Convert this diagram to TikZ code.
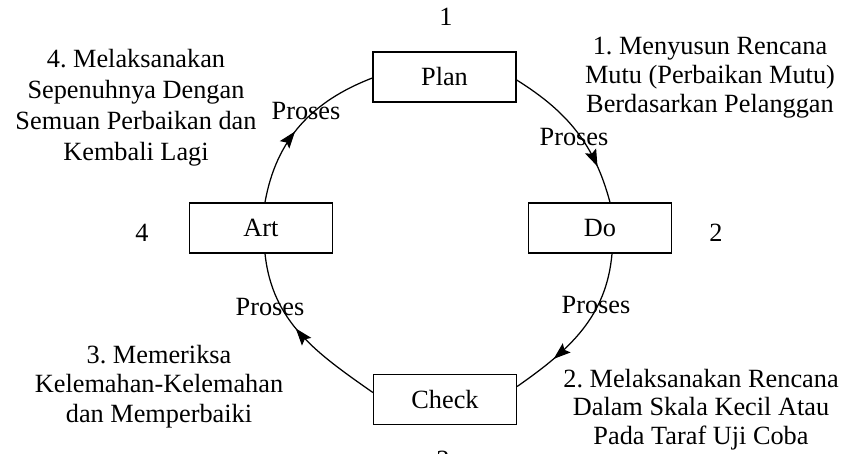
\documentclass[tikz,border=0pt]{standalone}
\usepackage{fontspec}
\setmainfont{Liberation Serif}
\frenchspacing
\usetikzlibrary{arrows.meta,decorations.markings}
\begin{document}
\begin{tikzpicture}[x=1pt,y=1pt,
  box/.style={draw, line width=1.3pt, minimum width=143pt, minimum height=50pt, inner sep=0pt, font=\fontsize{26.3}{29.5}\selectfont},
  lbl/.style={inner sep=0pt, font=\fontsize{26.3}{29.5}\selectfont},
  blk/.style={inner sep=0pt, align=center, anchor=north, font=\fontsize{26.3}{#1}\selectfont},
  cyc/.style={line width=1.25pt},
  arrowat/.style={postaction={decorate}, decoration={markings, mark=at position #1 with {\arrow{Stealth[length=17pt,width=12pt,inset=3pt]}}}}
]
\useasboundingbox (0,0) rectangle (843,-454);
\clip (0,0) rectangle (843,-454);
\fill[white] (0,0) rectangle (843,-454);

\node[box] (plan) at (444.5,-77) {Plan};
\node[box] (do) at (600,-228) {Do};
\node[box] (art) at (261,-228) {Art};
\node[box] (check) at (445,-399.5) {Check};

\draw[cyc, arrowat=0.76] ([yshift=-3pt]plan.east) to[out=-32,in=105] ([xshift=10pt]do.north);
\draw[cyc, arrowat=0.73] ([xshift=12pt]do.south) to[out=-95,in=35] ([yshift=13pt]check.east);
\draw[cyc, arrowat=0.55] ([yshift=7pt]check.west) to[out=145,in=-84] ([xshift=4pt]art.south);
\draw[cyc, arrowat=0.45] ([xshift=4pt]art.north) to[out=80,in=-159] ([yshift=-1pt]plan.west);

\node[lbl, anchor=base] (n1) at (446,-26) {1};
\node[lbl, anchor=base] (n2) at (716,-242) {2};
\node[lbl, anchor=base] (n3) at (443,-468) {3};
\node[lbl, anchor=base] (n4) at (142,-242) {4};

\node[lbl, anchor=base] (p1) at (574,-146) {Proses};
\node[lbl, anchor=base] (p2) at (596,-313) {Proses};
\node[lbl, anchor=base] (p3) at (270,-315) {Proses};
\node[lbl, anchor=base] (p4) at (306,-120) {Proses};

\node[blk=29] (t1) at (710,-37) {1. Menyusun Rencana\\Mutu (Perbaikan Mutu)\\Berdasarkan Pelanggan};
\node[blk=31] (t4) at (136,-49) {4. Melaksanakan\\Sepenuhnya Dengan\\Semuan Perbaikan dan\\Kembali Lagi};
\node[blk=29.5] (t3) at (159,-345) {3. Memeriksa\\Kelemahan-Kelemahan\\dan Memperbaiki};
\node[blk=28.5] (t2) at (701,-369) {2. Melaksanakan Rencana\\Dalam Skala Kecil Atau\\Pada Taraf Uji Coba};
\end{tikzpicture}
\end{document}
